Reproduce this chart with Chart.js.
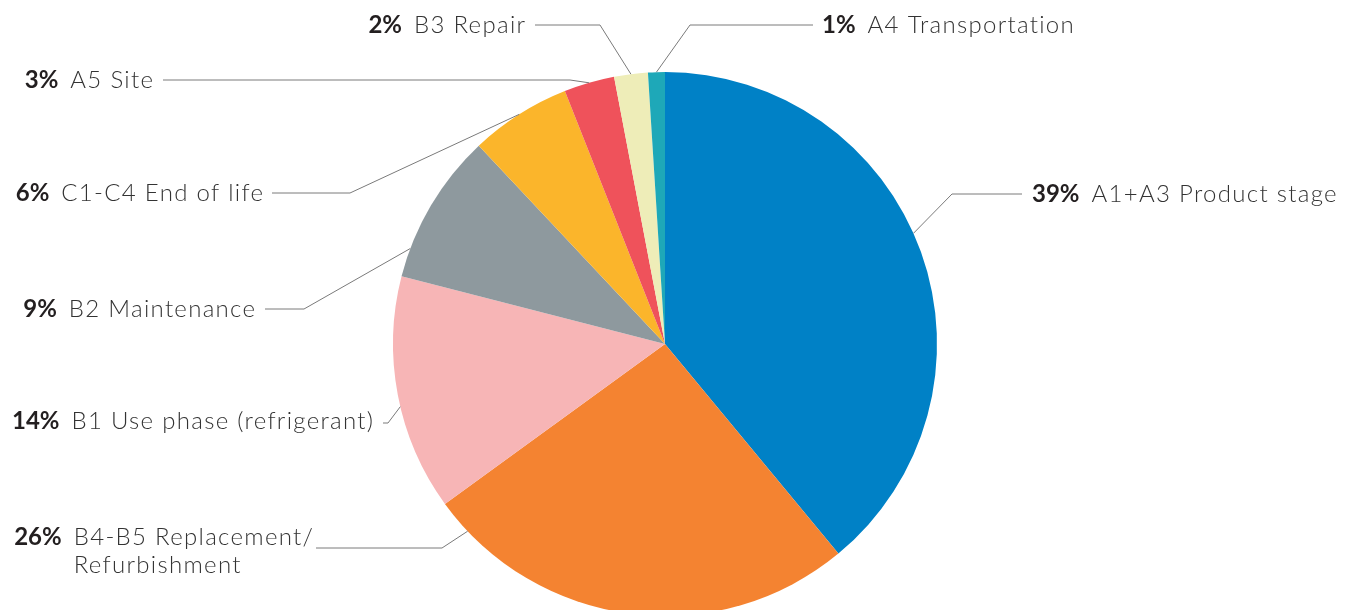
<!DOCTYPE html>
<html><head><meta charset="utf-8">
<script src="https://cdn.jsdelivr.net/npm/chart.js@4.4.0/dist/chart.umd.min.js"></script>
<style>
html,body{margin:0;padding:0;overflow:hidden;background:#fff;width:1359px;height:610px}
#wrap{position:relative;width:1359px;height:640px}
canvas{display:block}
</style></head>
<body><div id="wrap"><canvas id="c" width="1359" height="640"></canvas></div>
<script>
// ---- data ----
const categories = [
  ['A1+A3 Product stage'],
  ['B4-B5 Replacement/', 'Refurbishment'],
  ['B1 Use phase (refrigerant)'],
  ['B2 Maintenance'],
  ['C1-C4 End of life'],
  ['A5 Site'],
  ['B3 Repair'],
  ['A4 Transportation']
];
const shares = [39, 26, 14, 9, 6, 3, 2, 1];
const percentLabels = shares.map(v => v + '%');
const sliceColors = ['#0081C6','#F48331','#F7B5B6','#8E999E','#FBB52B','#EF525B','#EEEDB8','#1EA8B8'];

// ---- label layout (annotation positions, not data) ----
const labelLayout = [
  {frac:0.47, ex:952, ey:194, lx:1022, tx:1032, ty:194, side:'right'},
  {frac:0.92, ex:442, ey:548, lx:316,  tx:313,  ty:537, side:'left'},
  {frac:0.45, ex:388, ey:423, lx:383,  tx:373,  ty:421, side:'left'},
  {frac:0.19, ex:304, ey:309, lx:265,  tx:255,  ty:309, side:'left'},
  {frac:0.50, ex:350, ey:193, lx:272,  tx:263,  ty:193, side:'left'},
  {frac:0.50, ex:570, ey:80,  lx:163,  tx:153,  ty:80,  side:'left'},
  {frac:0.50, ex:600, ey:25,  lx:535,  tx:525,  ty:25,  side:'left'},
  {frac:0.50, ex:690, ey:25,  lx:813,  tx:822,  ty:25,  side:'right'}
];

const FONT_FAMILY = 'Lato, "Open Sans", sans-serif';
const FONT_SIZE = 24;
const GAP = 12;
const LINE_H = 28;
const NAME_SPACING = 1.3;

const leaderPlugin = {
  id: 'leaders',
  afterDatasetsDraw(chart) {
    const ctx = chart.ctx;
    const meta = chart.getDatasetMeta(0);
    ctx.save();
    meta.data.forEach((arc, i) => {
      const L = labelLayout[i];
      const p = arc.getProps(['x','y','startAngle','endAngle','outerRadius'], true);
      const a = p.startAngle + (p.endAngle - p.startAngle) * L.frac;
      const ax = p.x + Math.cos(a) * p.outerRadius;
      const ay = p.y + Math.sin(a) * p.outerRadius;
      ctx.strokeStyle = '#7a7a7a';
      ctx.lineWidth = 1;
      ctx.beginPath();
      ctx.moveTo(ax, ay);
      ctx.lineTo(L.ex, L.ey);
      ctx.lineTo(L.lx, L.ey);
      ctx.stroke();

      const pct = percentLabels[i];
      const lines = categories[i];
      const boldFont = '700 ' + FONT_SIZE + 'px ' + FONT_FAMILY;
      const lightFont = '300 ' + FONT_SIZE + 'px ' + FONT_FAMILY;
      ctx.textBaseline = 'middle';
      ctx.textAlign = 'left';
      ctx.letterSpacing = '0px';
      ctx.font = boldFont;
      const wPct = ctx.measureText(pct).width;
      ctx.font = lightFont;
      ctx.letterSpacing = NAME_SPACING + 'px';
      const wName = ctx.measureText(lines[0]).width - NAME_SPACING;
      let nameX, pctX;
      if (L.side === 'right') {
        pctX = L.tx; nameX = L.tx + wPct + GAP;
      } else {
        nameX = L.tx - wName; pctX = nameX - GAP - wPct;
      }
      ctx.fillStyle = '#333333';
      lines.forEach((ln, k) => ctx.fillText(ln, nameX, L.ty + k * LINE_H));
      ctx.letterSpacing = '0px';
      ctx.fillStyle = '#231F20';
      ctx.font = boldFont;
      ctx.fillText(pct, pctX, L.ty);
    });
    ctx.restore();
  }
};

new Chart(document.getElementById('c'), {
  type: 'pie',
  data: {
    labels: categories.map(c => c.join(' ')),
    datasets: [{ data: shares, backgroundColor: sliceColors, borderWidth: 0 }]
  },
  options: {
    responsive: false,
    animation: false,
    devicePixelRatio: 1,
    layout: { padding: { top: 72, bottom: 24, left: 393, right: 422 } },
    plugins: { legend: { display: false }, tooltip: { enabled: false } }
  },
  plugins: [leaderPlugin]
});
</script>
</body></html>
